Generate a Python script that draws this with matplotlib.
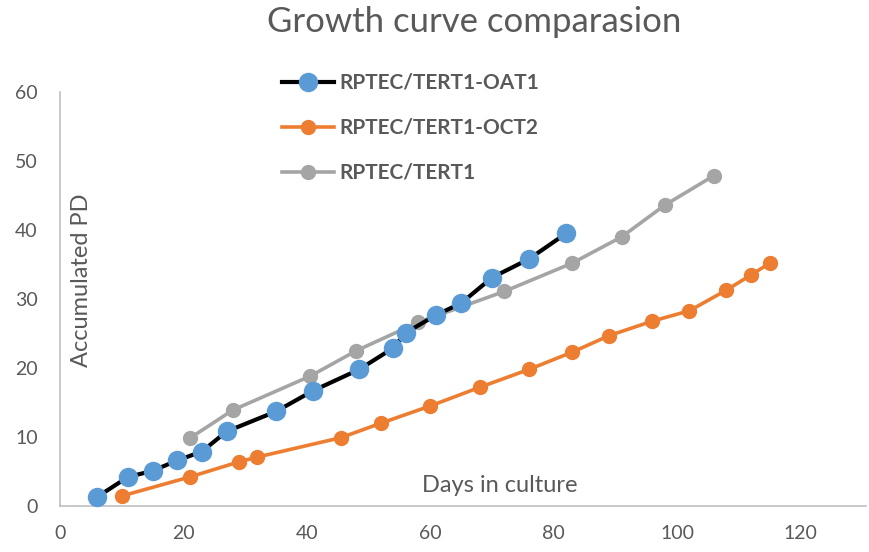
import matplotlib
matplotlib.use("Agg")
import matplotlib.pyplot as plt

plt.rcParams['font.family'] = ['Lato', 'DejaVu Sans']

# data
oat1_days = [6, 11, 15, 19, 23, 27, 35, 41, 48.5, 54, 56, 61, 65, 70, 76, 82]
oat1_pd = [1.3, 4.2, 5.1, 6.6, 7.9, 10.8, 13.7, 16.7, 19.8, 22.9, 25.1, 27.7, 29.4, 33.1, 35.8, 39.5]

oct2_days = [10, 21, 29, 32, 45.5, 52, 60, 68, 76, 83, 89, 96, 102, 108, 112, 115]
oct2_pd = [1.45, 4.2, 6.4, 7.1, 9.9, 12.0, 14.5, 17.2, 19.8, 22.3, 24.7, 26.8, 28.3, 31.3, 33.5, 35.2]

tert1_days = [21, 28, 40.5, 48, 58, 72, 83, 91, 98, 106]
tert1_pd = [9.8, 13.9, 18.8, 22.5, 26.6, 31.1, 35.2, 39.0, 43.6, 47.9]

x_ticks = [0, 20, 40, 60, 80, 100, 120]
y_ticks = [0, 10, 20, 30, 40, 50, 60]

text_col = "#595959"

fig = plt.figure(figsize=(8.69, 5.52), dpi=100)
ax = fig.add_axes([0.069, 0.0833, 0.9275, 0.75])

ax.plot(oat1_days, oat1_pd, color="black", lw=3, marker="o", ms=13,
        mfc="#5B9BD5", mec="#5B9BD5", label="RPTEC/TERT1-OAT1", clip_on=False, zorder=4)
ax.plot(oct2_days, oct2_pd, color="#ED7D31", lw=2.6, marker="o", ms=10,
        mfc="#ED7D31", mec="#ED7D31", label="RPTEC/TERT1-OCT2", clip_on=False, zorder=3)
ax.plot(tert1_days, tert1_pd, color="#A5A5A5", lw=2.6, marker="o", ms=10,
        mfc="#A5A5A5", mec="#A5A5A5", label="RPTEC/TERT1", clip_on=False, zorder=3)

ax.set_xlim(0, 130.6)
ax.set_ylim(0, 60)
ax.set_xticks(x_ticks)
ax.set_yticks(y_ticks)
ax.tick_params(length=0, labelsize=14, labelcolor=text_col)
ax.tick_params(axis="x", pad=14)
ax.tick_params(axis="y", pad=16)
for s in ["top", "right"]:
    ax.spines[s].set_visible(False)
for s in ["left", "bottom"]:
    ax.spines[s].set_color("#BFBFBF")
    ax.spines[s].set_linewidth(1.2)

ax.text(0.027, 0.546, "Accumulated PD", transform=ax.transAxes, rotation=90,
        ha="center", va="center", fontsize=17, color=text_col)
ax.text(0.546, 0.05, "Days in culture", transform=ax.transAxes,
        ha="center", va="center", fontsize=17, color=text_col)

fig.text(0.546, 0.96, "Growth curve comparasion", ha="center", va="center",
         fontsize=25, color=text_col)

leg = fig.legend(loc="upper left", bbox_to_anchor=(0.303, 0.902), frameon=False,
                 fontsize=15, labelspacing=1.2, handlelength=2.5, handletextpad=0.25,
                 markerscale=1.0)
for t in leg.get_texts():
    t.set_color(text_col)
    t.set_fontweight("bold")

fig.savefig("out.png", dpi=100)
